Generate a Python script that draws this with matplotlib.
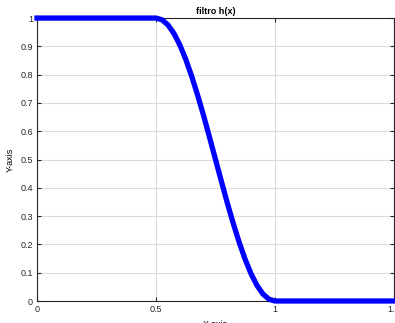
import matplotlib.pyplot as plt

# valores (filtro cosseno levantado)
x = [0.0, 0.5, 0.525, 0.55, 0.575, 0.6, 0.625, 0.65, 0.675, 0.7, 0.725,
     0.75, 0.775, 0.8, 0.825, 0.85, 0.875, 0.9, 0.925, 0.95, 0.975, 1.0, 1.5]
h = [1.0, 1.0, 0.994, 0.976, 0.946, 0.905, 0.854, 0.794, 0.727, 0.655, 0.578,
     0.5, 0.422, 0.345, 0.273, 0.206, 0.146, 0.095, 0.054, 0.024, 0.006, 0.0, 0.0]

xticks = [0, 0.5, 1, 1.5]
xticklabels = ['0', '0.5', '1', '1.5']
yticks = [0, 0.1, 0.2, 0.3, 0.4, 0.5, 0.6, 0.7, 0.8, 0.9, 1]
yticklabels = ['0', '0.1', '0.2', '0.3', '0.4', '0.5', '0.6', '0.7', '0.8', '0.9', '1']

plt.rcParams['font.family'] = ['Liberation Sans', 'DejaVu Sans']

fig = plt.figure(figsize=(3.95, 3.23), dpi=100)
ax = fig.add_axes([0.0937, 0.0681, 0.9038, 0.876])

ax.plot(x, h, color='#0000ff', linewidth=3.8, clip_on=False, zorder=3)

ax.set_xlim(0, 1.5)
ax.set_ylim(0, 1)
ax.set_xticks(xticks)
ax.set_xticklabels(xticklabels)
ax.set_yticks(yticks)
ax.set_yticklabels(yticklabels)

ax.grid(True, color='#dcdcdc', linewidth=0.8)
ax.set_axisbelow(True)
ax.tick_params(direction='in', top=True, right=True, length=3, width=0.8,
               labelsize=6.5, colors='#262626', pad=3)
for s in ax.spines.values():
    s.set_color('#262626')
    s.set_linewidth(0.8)

ax.set_title('filtro h(x)', fontsize=6.5, fontweight='bold', pad=3)
ax.set_xlabel('X-axis', fontsize=6.5, labelpad=4.5)
ax.set_ylabel('Y-axis', fontsize=6.5, labelpad=4)

fig.savefig('out.png', dpi=100)
